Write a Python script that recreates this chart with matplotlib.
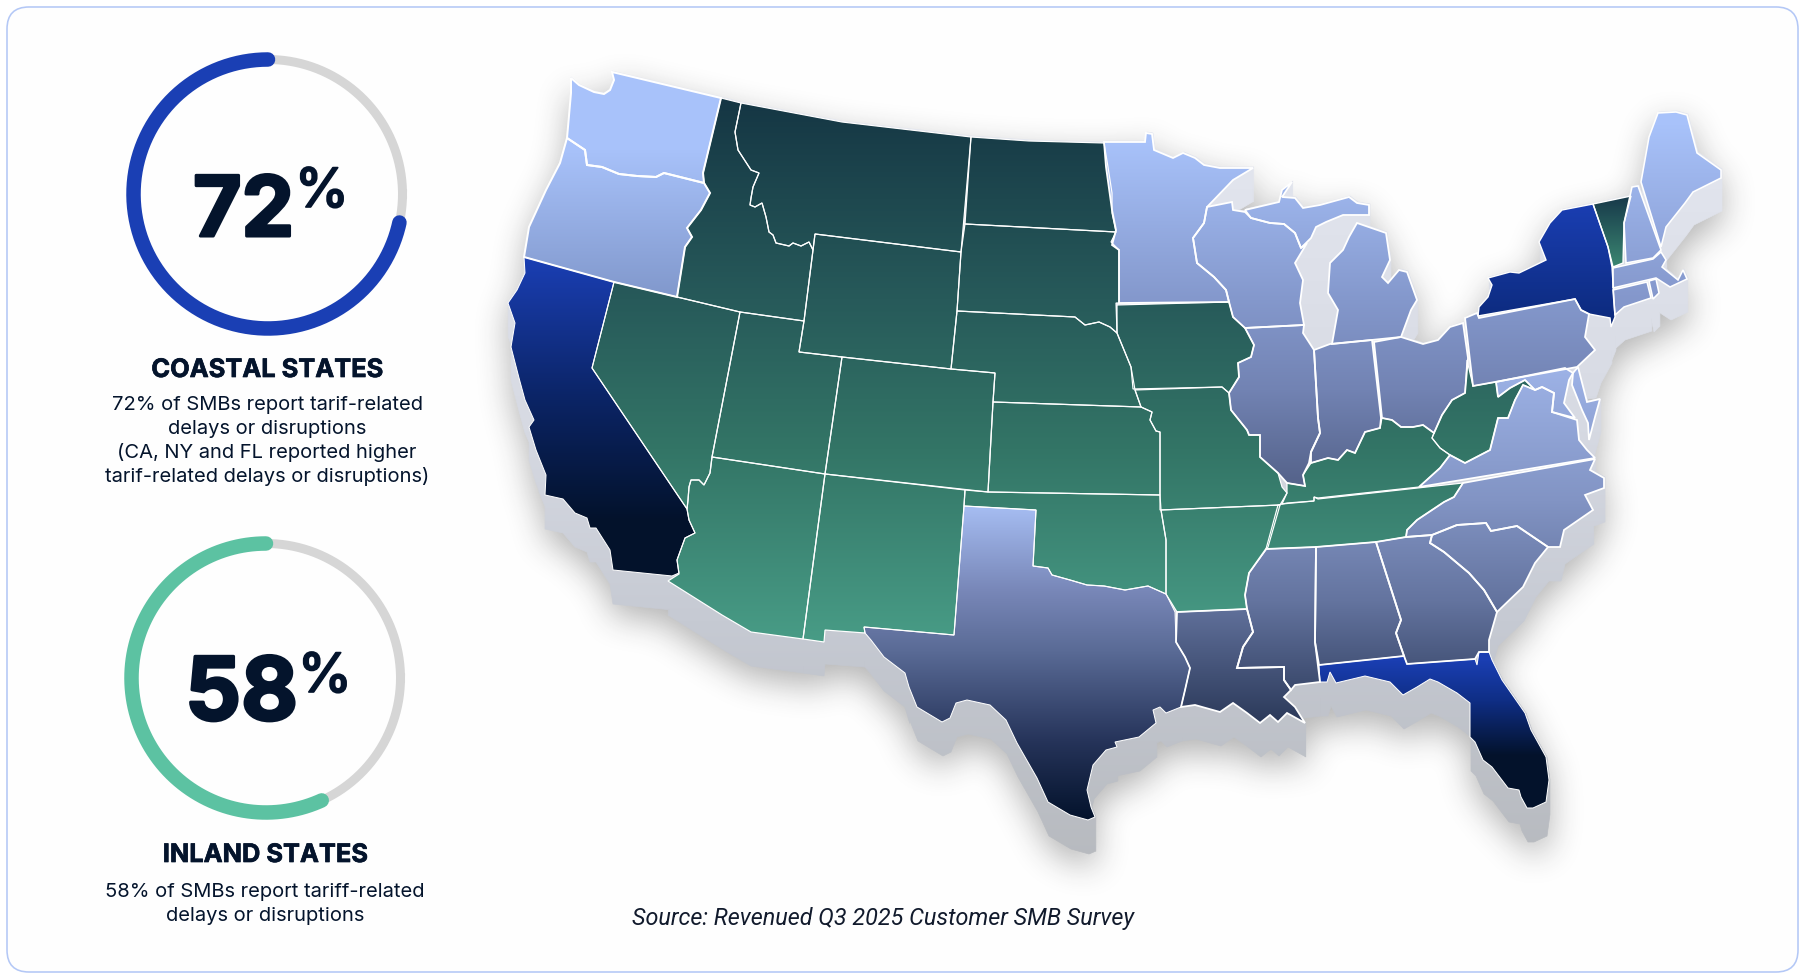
import numpy as np
import matplotlib
matplotlib.use("Agg")
import matplotlib.pyplot as plt
import matplotlib.patheffects as pe
from matplotlib.backends.backend_agg import FigureCanvasAgg
from matplotlib.figure import Figure
from matplotlib.patches import FancyBboxPatch, Polygon

# values
pct_values = [72, 58]
arc_read = [71.6, 56.8]  # how far the coloured arcs actually run in the picture
ring_colors = ["#1a3fb4", "#5cc2a2"]
titles = ["COASTAL STATES", "INLAND STATES"]
bodies = [
    ["72% of SMBs report tarif-related", "delays or disruptions",
     "(CA, NY and FL reported higher", "tarif-related delays or disruptions)"],
    ["58% of SMBs report tariff-related", "delays or disruptions"],
]
source = "Source: Revenued Q3 2025 Customer SMB Survey"

# state outlines (pixels)
WA = [(571,78),(579,85),(594,92),(604,94),(610,90),(614,80),(612,72),(721,98),(703,173),(704,183),(664,173),(656,177),(637,176),(619,174),(602,167),(587,165),(585,150),(567,138),(571,93)]
OR = [(567,138),(585,150),(587,165),(602,167),(619,174),(637,176),(656,177),(664,173),(704,183),(710,193),(701,210),(687,228),(692,237),(685,247),(677,297),(614,282),(524,257),(529,227),(546,190),(560,163)]
CA = [(524,257),(614,282),(592,368),(687,509),(689,520),(695,533),(685,538),(677,560),(679,573),(672,576),(613,570),(610,550),(596,528),(590,528),(587,518),(575,513),(563,499),(545,495),(546,475),(536,450),(529,427),(534,420),(525,400),(519,378),(511,347),(515,323),(508,303),(517,290),(525,273)]
NV = [(614,282),(677,297),(740,312),(712,457),(710,473),(704,485),(699,480),(691,480),(689,487),(688,500),(687,509),(592,368)]
ID = [(721,98),(741,103),(735,132),(738,150),(751,170),(759,173),(753,187),(751,198),(750,205),(755,207),(762,203),(766,217),(769,232),(773,235),(776,243),(789,246),(793,243),(801,246),(809,242),(813,250),(804,321),(740,312),(677,297),(685,247),(692,237),(687,228),(701,210),(710,193),(704,183),(703,173)]
MT = [(741,103),(842,122),(971,137),(961,252),(815,234),(813,250),(809,242),(801,246),(793,243),(789,246),(776,243),(773,235),(769,232),(766,217),(762,203),(755,207),(750,205),(751,198),(753,187),(759,173),(751,170),(738,150),(735,132)]
ND = [(971,137),(1029,141),(1104,143),(1108,167),(1112,193),(1112,213),(1116,232),(965,224)]
SD = [(965,224),(1116,232),(1111,242),(1119,250),(1119,303),(1116,303),(1117,333),(1110,327),(1099,322),(1085,325),(1075,317),(957,311),(961,252)]
WY = [(815,234),(961,252),(957,311),(951,369),(842,357),(799,352),(804,321),(813,250)]
UT = [(740,312),(804,321),(799,352),(842,357),(825,474),(712,457)]
CO = [(842,357),(951,369),(995,373),(993,402),(988,492),(825,474)]
NE = [(957,311),(1075,317),(1085,325),(1099,322),(1110,327),(1117,333),(1131,367),(1135,390),(1141,407),(993,402),(995,373),(951,369)]
KS = [(993,402),(1141,407),(1152,412),(1150,420),(1156,431),(1160,432),(1160,495),(988,492)]
AZ = [(712,457),(825,474),(803,639),(751,632),(722,615),(668,581),(679,574),(677,560),(685,538),(695,533),(689,520),(687,509),(688,500),(689,487),(691,480),(699,480),(704,485),(710,473)]
NM = [(825,474),(965,490),(964,506),(954,635),(864,627),(865,633),(825,630),(824,642),(803,639)]
OK = [(965,490),(988,492),(1160,495),(1161,510),(1166,540),(1166,594),(1148,586),(1125,590),(1104,586),(1087,585),(1070,580),(1052,575),(1048,568),(1033,566),(1036,510),(964,506)]
TX = [(964,506),(1036,510),(1033,566),(1048,568),(1052,575),(1070,580),(1087,585),(1104,586),(1125,590),(1148,586),(1166,594),(1175,612),(1176,642),(1185,657),(1190,668),(1185,690),(1181,707),(1166,713),(1160,707),(1153,710),(1156,723),(1139,737),(1115,742),(1117,747),(1106,750),(1093,765),(1087,790),(1091,807),(1095,817),(1088,820),(1070,815),(1048,802),(1037,778),(1017,743),(1006,720),(990,705),(967,700),(956,703),(950,718),(942,722),(917,707),(909,687),(905,673),(884,657),(871,640),(865,633),(864,627),(954,635)]
MN = [(1104,142),(1145,142),(1146,133),(1152,134),(1154,150),(1173,158),(1183,153),(1195,158),(1204,165),(1220,168),(1253,168),(1233,180),(1207,207),(1204,223),(1193,238),(1197,263),(1214,277),(1226,290),(1229,302),(1119,303),(1119,250),(1112,245),(1116,230),(1112,210),(1106,167)]
IA = [(1117,305),(1229,302),(1233,317),(1245,328),(1254,345),(1251,357),(1238,363),(1239,377),(1229,393),(1222,387),(1133,389),(1131,367),(1117,333)]
MO = [(1135,390),(1222,387),(1229,393),(1231,410),(1247,430),(1249,435),(1260,435),(1260,457),(1278,473),(1282,487),(1287,493),(1280,505),(1160,510),(1160,432),(1156,431),(1150,420),(1152,412),(1141,407)]
AR = [(1161,510),(1280,505),(1268,547),(1249,573),(1245,595),(1247,609),(1177,612),(1166,594),(1166,540)]
LA = [(1177,612),(1247,609),(1253,632),(1243,647),(1237,668),(1284,667),(1284,680),(1291,690),(1284,697),(1295,707),(1305,723),(1287,713),(1278,722),(1270,715),(1260,723),(1247,713),(1233,703),(1220,712),(1195,705),(1181,707),(1185,690),(1190,668),(1185,657),(1176,642)]
MS = [(1266,549),(1316,547),(1315,642),(1320,682),(1295,685),(1291,690),(1284,680),(1284,667),(1237,668),(1243,647),(1253,632),(1247,609),(1245,595),(1249,573)]
AL = [(1316,547),(1376,542),(1401,620),(1396,633),(1404,656),(1319,665),(1315,642)]
GA = [(1376,542),(1406,537),(1432,535),(1430,543),(1444,552),(1469,573),(1484,590),(1497,612),(1489,640),(1489,652),(1479,652),(1475,659),(1407,664),(1404,656),(1396,633),(1401,620)]
FL = [(1319,665),(1404,656),(1407,664),(1475,659),(1477,665),(1479,652),(1489,652),(1492,660),(1502,680),(1525,713),(1531,730),(1546,757),(1549,780),(1546,802),(1533,808),(1527,808),(1521,797),(1519,790),(1508,788),(1492,767),(1483,760),(1475,742),(1470,737),(1470,703),(1457,693),(1438,682),(1430,679),(1417,687),(1403,695),(1390,682),(1365,676),(1340,682),(1336,683),(1330,672),(1327,682),(1320,682)]
SC = [(1432,535),(1457,525),(1486,523),(1491,531),(1517,526),(1548,547),(1535,563),(1523,587),(1497,612),(1484,590),(1469,573),(1444,552),(1430,543)]
NC = [(1463,483),(1595,459),(1590,470),(1604,478),(1604,488),(1585,495),(1593,510),(1564,530),(1560,547),(1548,547),(1517,526),(1491,531),(1486,523),(1457,525),(1432,535),(1406,537),(1407,530),(1417,520),(1432,510),(1444,502),(1454,497)]
TN = [(1287,503),(1314,501),(1314,497),(1318,499),(1463,483),(1454,497),(1444,502),(1432,510),(1417,520),(1407,530),(1406,537),(1376,542),(1316,547),(1266,549),(1278,505)]
KY = [(1287,483),(1305,486),(1303,475),(1311,463),(1328,458),(1338,460),(1347,450),(1355,453),(1365,432),(1380,428),(1382,418),(1392,420),(1401,427),(1413,427),(1423,425),(1434,433),(1432,438),(1440,448),(1450,455),(1440,468),(1419,487),(1318,498),(1314,497),(1314,501),(1282,504),(1287,493)]
VA = [(1419,487),(1595,458),(1587,450),(1579,440),(1577,420),(1552,412),(1554,393),(1542,387),(1535,390),(1523,385),(1515,400),(1508,418),(1498,418),(1490,450),(1465,463),(1450,455),(1440,468)]
WV = [(1467,360),(1473,386),(1496,382),(1498,397),(1510,388),(1525,380),(1535,390),(1523,385),(1515,400),(1508,418),(1498,418),(1490,450),(1465,463),(1450,455),(1440,448),(1432,438),(1434,433),(1442,415),(1452,400),(1465,393)]
MD = [(1496,382),(1565,368),(1573,373),(1569,380),(1564,403),(1575,418),(1552,412),(1554,393),(1542,387),(1535,390),(1525,380),(1510,388),(1498,397)]
DE = [(1578,367),(1587,402),(1600,399),(1595,417),(1589,440),(1588,423),(1582,410),(1572,385),(1573,373)]
WI = [(1207,207),(1232,202),(1233,210),(1245,212),(1251,218),(1270,223),(1284,224),(1295,233),(1301,248),(1307,243),(1295,263),(1303,280),(1300,303),(1304,325),(1245,328),(1233,317),(1229,302),(1226,290),(1214,277),(1197,263),(1193,238),(1204,223)]
MI_U = [(1245,210),(1279,202),(1282,190),(1292,182),(1282,197),(1295,198),(1303,208),(1320,205),(1349,197),(1357,203),(1369,205),(1369,215),(1343,215),(1326,222),(1316,227),(1311,238),(1301,248),(1295,233),(1284,224),(1270,223),(1251,218)]
MI_L = [(1357,223),(1386,233),(1390,260),(1382,277),(1388,283),(1399,270),(1407,272),(1417,300),(1411,310),(1401,337),(1332,344),(1338,310),(1328,293),(1330,263),(1343,250),(1349,237)]
IL = [(1245,328),(1304,325),(1303,333),(1314,350),(1318,418),(1320,433),(1311,452),(1309,463),(1303,475),(1305,486),(1287,483),(1278,473),(1260,457),(1260,435),(1249,435),(1247,430),(1231,410),(1229,393),(1239,377),(1238,363),(1251,357),(1254,345)]
IN = [(1314,350),(1330,344),(1372,340),(1381,418),(1380,428),(1365,432),(1355,453),(1347,450),(1338,460),(1328,458),(1311,463),(1311,452),(1320,433),(1318,418)]
OH = [(1374,342),(1401,337),(1423,344),(1438,340),(1450,327),(1463,323),(1468,358),(1465,393),(1452,400),(1442,415),(1434,433),(1423,425),(1413,427),(1401,427),(1392,420),(1382,418)]
PA = [(1465,318),(1477,313),(1479,318),(1575,299),(1581,310),(1589,314),(1585,337),(1595,350),(1577,367),(1473,386)]
NY = [(1478,316),(1479,307),(1488,297),(1492,285),(1488,278),(1510,272),(1519,273),(1546,260),(1539,242),(1550,223),(1562,210),(1593,204),(1608,247),(1612,267),(1615,317),(1611,327),(1610,318),(1589,314),(1581,310),(1575,299)]
VT = [(1593,204),(1631,196),(1624,223),(1623,263),(1613,267),(1608,247)]
NH = [(1632,187),(1638,186),(1661,250),(1653,258),(1626,263),(1624,223)]
ME = [(1641,182),(1649,137),(1658,113),(1676,112),(1687,115),(1697,153),(1721,170),(1721,178),(1693,192),(1685,203),(1666,227),(1661,247)]
MA = [(1613,268),(1653,259),(1661,252),(1666,260),(1662,267),(1678,280),(1683,270),(1687,279),(1670,287),(1656,278),(1613,288)]
CT = [(1613,290),(1647,282),(1651,298),(1624,307),(1615,315)]
RI = [(1649,281),(1656,279),(1659,293),(1653,299)]

# water / gaps that show the shadow colour
LAKE_MI = [(1316,227),(1343,215),(1357,223),(1349,237),(1343,250),(1330,263),(1328,293),(1338,310),(1332,344),(1314,350),(1304,325),(1300,303),(1303,280),(1295,263),(1307,243),(1311,238)]
NJ = [(1589,314),(1610,318),(1611,330),(1600,350),(1595,365),(1577,367),(1595,350),(1585,337)]
BAY = [(1573,373),(1572,385),(1582,410),(1588,423),(1589,440),(1579,440),(1577,420),(1575,418),(1564,403),(1569,380)]

# (group states, gradient stops as y pixel / colour, border px)
groups = [
    ([WA, OR], [(150, "#a8c2fa"), (297, "#8198cc")], 2.0),
    ([CA], [(262, "#1a3eb2"), (400, "#0b2465"), (520, "#03122b")], 1.0),
    ([NY], [(205, "#1a3eb2"), (325, "#0c2a7c")], 1.4),
    ([FL], [(660, "#1a3eb2"), (700, "#0f2e85"), (755, "#03122b")], 1.0),
    ([VT], [(197, "#17394a"), (265, "#3a8470")], 1.4),
    ([ID, MT, ND, SD, WY, NE, IA, NV, UT, CO, KS, MO, AZ, NM, OK, AR, KY, TN, WV],
     [(100, "#153644"), (300, "#275a5a"), (450, "#337566"), (640, "#489c86")], 1.2),
    ([TX], [(506, "#a6bdf2"), (590, "#7887b8"), (650, "#5a6b96"), (740, "#26345a"), (820, "#03122b")], 1.0),
    ([MN, WI, MI_U, MI_L, IL, IN, OH, PA], [(143, "#a8c2fa"), (300, "#8498cc"), (390, "#7283b3"), (480, "#56648c")], 1.8),
    ([ME, NH, MA, CT, RI], [(125, "#a8c2fa"), (300, "#8497cb")], 1.6),
    ([MD, DE, VA, NC, SC, GA, AL, MS, LA], [(370, "#9db2e6"), (500, "#8294c4"), (600, "#64749f"), (725, "#2a3858")], 1.8),
]

W, H = 1806, 980
SIZE = ((W + 0.01) / 100, (H + 0.01) / 100)
px = 72 / 100  # px to pt at dpi 100
plt.rcParams["font.family"] = ["Inter", "DejaVu Sans"]


def hex_rgb(c):
    return np.array(matplotlib.colors.to_rgb(c))


def ramp(stops):
    ys = np.arange(H)
    cols = [hex_rgb(c) for _, c in stops]
    yp = [y for y, _ in stops]
    return np.stack([np.interp(ys, yp, [c[i] for c in cols]) for i in range(3)], axis=1)


def box_blur(a, r, axis):
    c = np.cumsum(np.insert(a, 0, 0, axis=axis), axis=axis)
    n = a.shape[axis]
    lo = np.clip(np.arange(n) - r, 0, n)
    hi = np.clip(np.arange(n) + r + 1, 0, n)
    return (np.take(c, hi, axis=axis) - np.take(c, lo, axis=axis)) / (2 * r + 1)


def blur(a, r):
    for _ in range(3):
        a = box_blur(box_blur(a, r, 0), r, 1)
    return a


# silhouette mask, drawn offscreen
mfig = Figure(figsize=SIZE, dpi=100)
mcanvas = FigureCanvasAgg(mfig)
max_ = mfig.add_axes([0, 0, 1, 1])
max_.set_xlim(0, W)
max_.set_ylim(H, 0)
max_.axis("off")
for states, _, _ in groups:
    for st in states:
        max_.add_patch(Polygon(st, closed=True, fc="k", ec="k", lw=0.5))
for st in [LAKE_MI, NJ, BAY]:
    max_.add_patch(Polygon(st, closed=True, fc="k", ec="k", lw=0.5))
mcanvas.draw()
sil = 1 - np.asarray(mcanvas.buffer_rgba())[:, :, 0] / 255.0

depth = 34
ext = sil.copy()
for d in range(1, depth + 1):
    ext[d:] = np.maximum(ext[d:], sil[:-d])

soft = blur(np.roll(ext, 12, axis=0), 15) * 0.34
soft_rgba = np.zeros((H, W, 4))
soft_rgba[:, :, :3] = 0.15
soft_rgba[:, :, 3] = soft

ext_col = ramp([(120, "#e4e7f0"), (420, "#d7dae3"), (620, "#c6cad3"), (860, "#b7babf")])
ext_rgba = np.zeros((H, W, 4))
ext_rgba[:, :, :3] = ext_col[:, None, :]
ext_rgba[:, :, 3] = ext

fig = plt.figure(figsize=SIZE, dpi=100, facecolor="white")
ax = fig.add_axes([0, 0, 1, 1])
ax.set_xlim(0, W)
ax.set_ylim(H, 0)
ax.axis("off")

# card
ax.add_patch(FancyBboxPatch((29, 29), 1747, 921, boxstyle="round,pad=22,rounding_size=22",
                            fc="#fefefe", ec="#b4c8f6", lw=1.6 * px, zorder=0))

ax.imshow(soft_rgba, extent=(0, W, H, 0), aspect="auto", zorder=1, interpolation="nearest")
ax.imshow(ext_rgba, extent=(0, W, H, 0), aspect="auto", zorder=2, interpolation="nearest")

# map
for states, stops, border in groups:
    grad = ramp(stops)[:, None, :]
    for st in states:
        poly = Polygon(st, closed=True, fc="none", ec="white", lw=border * px, zorder=4)
        ax.add_patch(poly)
        im = ax.imshow(grad, extent=(0, W, H, 0), aspect="auto", zorder=3, interpolation="nearest")
        im.set_clip_path(poly)
ax.set_xlim(0, W)
ax.set_ylim(H, 0)

# rings
centers = [(268, 194), (266, 678)]
ring_r = 134.5
for (cx, cy), val, col in zip(centers, arc_read, ring_colors):
    t = np.linspace(0, 2 * np.pi, 300)
    ax.plot(cx + ring_r * np.cos(t), cy + ring_r * np.sin(t), color="#d6d6d6", lw=9 * px, zorder=5)
    t = np.linspace(0, val / 100 * 2 * np.pi, 300)
    ax.plot(cx - ring_r * np.sin(t), cy - ring_r * np.cos(t), color=col, lw=14.5 * px,
            solid_capstyle="round", zorder=6)

ink = "#04142c"
heavy = [pe.withStroke(linewidth=2.2, foreground=ink)]
num_right = [294, 298]
num_base = [236, 720]
num_size = [60, 63]
pct_xy = [(295, 207), (298, 692)]
for val, x, y, fs, (px2, py2) in zip(pct_values, num_right, num_base, num_size, pct_xy):
    ax.text(x, y, str(val), ha="right", va="baseline", color=ink, fontsize=fs, fontweight="bold",
            path_effects=heavy, zorder=7)
    ax.text(px2, py2, "%", ha="left", va="baseline", color=ink, fontsize=39, fontweight="medium",
            path_effects=[pe.withStroke(linewidth=1.2, foreground=ink)], zorder=7)

title_xy = [(267, 377), (265, 862)]
for (x, y), t in zip(title_xy, titles):
    ax.text(x, y, t, ha="center", va="baseline", color=ink, fontsize=18.3, fontweight="bold",
            path_effects=[pe.withStroke(linewidth=0.5, foreground=ink)], zorder=7)

body_y = [[410, 434, 458, 482], [897, 921]]
body_x = [267, 265]
for x, ys, lines in zip(body_x, body_y, bodies):
    for y, line in zip(ys, lines):
        ax.text(x, y, line, ha="center", va="baseline", color=ink, fontsize=14.5, zorder=7)

ax.text(632, 925, source, ha="left", va="baseline", color="#111a2c", fontsize=16.8,
        family=["Roboto", "DejaVu Sans"], style="italic", zorder=7)

fig.savefig("out.png", dpi=100)
